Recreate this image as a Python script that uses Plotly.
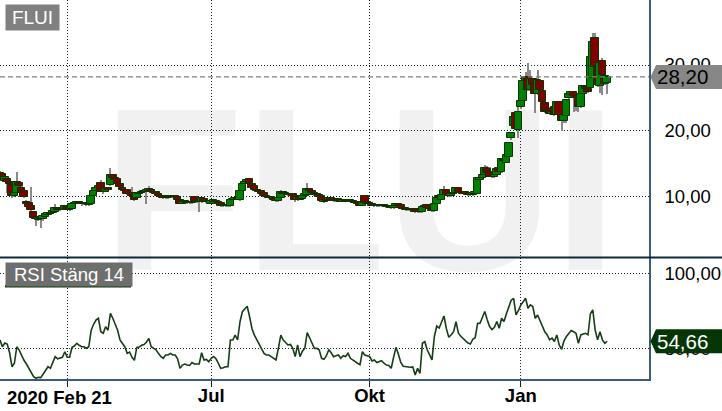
import plotly.graph_objects as go

# daily candles, Feb 21 2020 .. Feb 2021 (trading-day index on x)
opens = [
    13.1, 13.5, 12.4, 12.7, 12.3, 11.8, 10.2, 10.6, 12.1, 11.4,
    10.9, 9.3, 9.1, 8.6, 7.7, 7.0, 6.5, 6.9, 6.6, 7.0,
    7.3, 7.6, 7.5, 7.8, 8.3, 8.0, 8.3, 8.1, 8.5, 8.3,
    8.2, 8.9, 9.0, 9.2, 9.0, 8.9, 9.0, 8.8, 8.9, 10.2,
    10.9, 11.3, 12.1, 11.2, 10.8, 11.3, 11.8, 13.3, 12.9, 12.7,
    12.0, 11.3, 11.1, 11.0, 10.4, 10.6, 10.3, 9.8, 10.5, 10.6,
    10.9, 10.8, 10.9, 11.1, 10.7, 10.7, 10.5, 10.2, 10.2, 9.8,
    9.9, 10.0, 10.1, 10.0, 10.0, 9.6, 9.0, 9.2, 9.2, 9.2,
    9.1, 10.0, 9.3, 9.3, 9.2, 9.7, 9.2, 9.3, 9.0, 9.3,
    9.4, 9.3, 9.1, 8.7, 8.6, 8.7, 8.6, 9.5, 9.6, 9.8,
    9.5, 10.9, 12.0, 12.3, 12.7, 12.0, 11.6, 11.1, 10.9, 10.9,
    10.6, 10.2, 9.9, 10.0, 9.8, 9.7, 9.4, 9.8, 10.8, 10.6,
    10.5, 10.3, 10.4, 10.2, 9.5, 10.0, 9.7, 10.2, 10.3, 11.2,
    10.9, 10.6, 10.4, 10.3, 10.1, 9.2, 9.4, 9.6, 9.8, 9.6,
    9.4, 9.6, 9.5, 9.3, 9.5, 9.4, 9.5, 9.3, 9.2, 9.2,
    9.1, 8.7, 10.1, 9.2, 9.0, 8.9, 8.8, 8.7, 8.6, 8.6,
    8.7, 8.6, 8.6, 8.5, 8.3, 8.7, 8.9, 8.8, 8.4, 8.3,
    8.2, 8.1, 8.0, 8.2, 7.7, 7.9, 7.7, 8.5, 8.8, 8.4,
    8.2, 7.9, 8.9, 10.2, 9.6, 10.3, 11.0, 10.4, 10.1, 10.4,
    10.6, 11.3, 10.8, 10.7, 10.8, 10.5, 10.6, 10.3, 10.4, 10.5,
    12.6, 12.9, 13.4, 14.3, 13.8, 13.2, 13.0, 13.4, 14.4, 13.8,
    15.6, 15.2, 16.1, 18.9, 20.8, 22.7, 20.2, 23.6, 24.5, 27.6,
    28.2, 26.2, 27.9, 27.3, 25.6, 27.6, 26.1, 24.2, 23.4, 23.3,
    22.6, 23.6, 22.5, 24.4, 22.4, 21.5, 22.3, 25.0, 25.5, 25.9,
    25.3, 25.2, 23.6, 25.6, 26.6, 26.4, 26.5, 28.0, 34.1, 29.6,
    26.8, 30.6, 28.3, 27.3,
]
highs = [
    14.0, 13.7, 13.2, 12.9, 12.5, 12.0, 10.8, 13.8, 12.4, 11.6,
    11.0, 9.6, 9.3, 11.5, 7.9, 7.1, 7.0, 7.0, 7.2, 7.5,
    7.7, 7.7, 8.0, 8.9, 8.4, 8.3, 8.4, 8.7, 8.6, 8.4,
    9.0, 9.1, 9.3, 9.3, 9.1, 9.1, 9.1, 9.1, 10.3, 11.0,
    11.4, 11.8, 12.6, 11.4, 11.4, 11.5, 14.4, 13.5, 13.0, 12.8,
    12.1, 11.5, 11.2, 11.1, 10.6, 11.5, 10.4, 10.7, 10.8, 10.9,
    11.0, 11.1, 11.7, 11.2, 10.9, 10.8, 10.6, 10.3, 10.3, 10.1,
    10.1, 10.2, 10.2, 10.1, 10.1, 9.7, 9.3, 9.4, 9.3, 9.3,
    9.4, 10.1, 9.4, 9.4, 9.9, 9.8, 9.4, 9.4, 9.5, 9.6,
    9.5, 9.4, 9.2, 8.8, 8.8, 8.8, 9.7, 9.7, 9.9, 9.9,
    11.0, 12.1, 12.4, 12.8, 12.9, 12.1, 11.7, 11.3, 11.0, 11.0,
    10.7, 10.3, 10.1, 10.1, 9.9, 9.8, 10.5, 11.0, 10.9, 10.7,
    10.6, 10.5, 10.5, 10.3, 10.1, 10.1, 10.3, 10.5, 12.1, 11.3,
    11.0, 10.7, 10.5, 10.4, 10.2, 9.6, 9.7, 10.0, 9.9, 9.7,
    9.6, 9.7, 9.6, 9.6, 9.6, 9.6, 9.6, 9.4, 9.3, 9.3,
    9.2, 9.4, 10.3, 9.3, 9.1, 9.0, 8.9, 8.8, 8.8, 8.9,
    8.8, 8.7, 8.7, 8.6, 8.8, 9.0, 9.0, 8.9, 8.5, 8.4,
    8.4, 8.2, 8.2, 8.3, 8.0, 8.0, 8.7, 8.8, 8.9, 8.5,
    8.3, 9.0, 10.0, 10.3, 10.4, 11.6, 11.1, 10.5, 10.5, 10.7,
    11.5, 11.4, 10.9, 10.8, 10.9, 10.6, 10.7, 10.7, 10.8, 13.0,
    13.1, 13.5, 14.8, 14.7, 14.6, 13.4, 13.5, 14.4, 14.5, 15.9,
    15.8, 16.5, 18.3, 19.8, 22.3, 22.9, 24.4, 24.6, 27.8, 29.0,
    30.3, 29.2, 28.1, 27.5, 29.2, 27.8, 26.3, 24.4, 23.8, 23.6,
    23.1, 23.8, 24.6, 24.5, 22.6, 22.6, 24.9, 25.8, 26.0, 26.1,
    25.5, 25.4, 25.8, 26.9, 26.8, 26.6, 31.4, 34.9, 34.8, 31.5,
    30.5, 31.0, 28.6, 28.4,
]
lows = [
    12.9, 12.8, 12.2, 10.6, 11.9, 9.9, 10.0, 10.5, 11.4, 10.7,
    9.9, 8.9, 8.4, 7.9, 6.6, 5.6, 6.3, 5.3, 6.4, 6.9,
    7.2, 7.3, 7.4, 7.7, 7.9, 7.9, 8.0, 8.0, 8.0, 7.9,
    8.1, 8.8, 8.9, 8.9, 8.7, 8.8, 8.7, 8.7, 8.8, 10.0,
    10.5, 11.0, 10.7, 10.5, 10.7, 10.9, 11.7, 12.8, 12.3, 11.9,
    11.4, 11.0, 10.8, 10.3, 10.2, 10.1, 9.4, 9.7, 10.4, 10.5,
    10.7, 8.9, 10.8, 10.6, 10.5, 10.4, 10.0, 9.9, 9.7, 9.7,
    9.8, 9.9, 9.9, 9.8, 9.4, 8.9, 8.9, 9.1, 9.0, 9.0,
    9.0, 9.1, 9.1, 7.7, 9.1, 9.2, 9.1, 9.1, 8.9, 9.2,
    9.2, 8.9, 8.5, 8.5, 8.5, 8.5, 8.5, 9.4, 9.5, 9.5,
    9.4, 10.8, 11.9, 12.2, 12.0, 11.3, 11.0, 10.8, 10.6, 10.3,
    10.0, 9.9, 9.8, 9.7, 9.5, 9.3, 9.3, 9.7, 10.3, 10.3,
    10.2, 10.2, 10.1, 9.3, 9.4, 9.5, 9.6, 10.1, 10.2, 10.8,
    10.5, 10.2, 10.2, 9.9, 9.2, 9.1, 9.3, 9.5, 9.4, 9.3,
    9.3, 9.4, 9.2, 9.2, 9.3, 9.3, 9.2, 9.1, 9.0, 8.8,
    8.6, 8.6, 9.0, 8.9, 8.8, 8.6, 8.6, 8.5, 8.5, 8.5,
    8.5, 8.4, 8.4, 8.2, 8.2, 8.6, 8.6, 8.2, 8.1, 7.9,
    7.9, 7.9, 7.9, 7.6, 7.6, 7.6, 7.6, 8.4, 8.2, 8.1,
    7.8, 7.8, 8.8, 9.6, 9.5, 10.2, 10.2, 10.0, 10.0, 10.3,
    10.5, 10.7, 10.5, 10.4, 10.4, 10.2, 10.2, 10.2, 10.3, 10.4,
    12.5, 12.8, 13.3, 13.5, 13.0, 12.9, 12.9, 13.3, 13.7, 13.7,
    15.2, 15.1, 16.0, 18.7, 20.6, 20.1, 18.9, 23.4, 24.3, 27.3,
    26.0, 26.1, 26.9, 22.7, 25.5, 25.0, 24.2, 22.8, 22.7, 22.4,
    22.4, 22.3, 22.4, 22.2, 20.0, 21.2, 21.2, 24.9, 25.3, 22.9,
    23.0, 22.9, 23.5, 25.4, 26.1, 25.7, 26.3, 27.8, 29.5, 26.7,
    25.8, 25.5, 27.0, 25.6,
]
closes = [
    13.7, 12.9, 13.0, 12.2, 12.0, 10.1, 10.6, 12.2, 11.6, 10.8,
    10.0, 9.0, 8.5, 8.0, 6.8, 6.6, 6.8, 6.7, 7.1, 7.4,
    7.6, 7.4, 7.9, 8.3, 8.0, 8.2, 8.1, 8.6, 8.1, 8.0,
    8.9, 9.0, 9.2, 9.0, 8.9, 9.0, 8.9, 9.0, 10.2, 10.9,
    11.3, 11.6, 10.8, 10.7, 11.3, 11.0, 13.3, 12.9, 12.5, 12.0,
    11.5, 11.1, 10.9, 10.4, 10.5, 10.2, 9.6, 10.6, 10.6, 10.8,
    10.8, 11.0, 11.2, 10.7, 10.6, 10.5, 10.1, 10.0, 9.8, 10.0,
    10.0, 10.1, 10.0, 10.0, 9.5, 9.0, 9.2, 9.3, 9.1, 9.1,
    9.3, 9.2, 9.2, 9.2, 9.8, 9.3, 9.3, 9.2, 9.4, 9.5,
    9.3, 9.0, 8.6, 8.6, 8.7, 8.6, 9.6, 9.6, 9.8, 9.6,
    10.9, 12.0, 12.3, 12.6, 12.1, 11.4, 11.1, 10.9, 10.7, 10.4,
    10.1, 10.0, 10.0, 9.8, 9.6, 9.4, 9.8, 10.8, 10.4, 10.4,
    10.3, 10.4, 10.2, 9.5, 10.0, 9.6, 10.2, 10.4, 11.2, 10.9,
    10.6, 10.3, 10.3, 10.0, 9.4, 9.5, 9.6, 9.9, 9.5, 9.4,
    9.5, 9.5, 9.3, 9.5, 9.4, 9.5, 9.3, 9.2, 9.1, 8.9,
    8.7, 9.3, 9.1, 9.0, 8.9, 8.7, 8.7, 8.6, 8.7, 8.7,
    8.6, 8.5, 8.5, 8.3, 8.7, 8.9, 8.7, 8.3, 8.2, 8.1,
    8.0, 8.0, 8.1, 7.8, 7.9, 7.7, 8.5, 8.6, 8.3, 8.2,
    7.9, 8.9, 9.9, 9.8, 10.3, 11.0, 10.3, 10.1, 10.4, 10.6,
    11.4, 10.8, 10.6, 10.5, 10.5, 10.3, 10.3, 10.6, 10.7, 12.9,
    12.9, 13.4, 14.4, 13.6, 13.1, 13.0, 13.4, 14.3, 13.8, 15.8,
    15.4, 16.4, 18.2, 19.7, 22.1, 20.3, 22.9, 24.5, 27.6, 28.2,
    26.2, 27.9, 27.0, 25.6, 27.7, 26.2, 24.4, 22.9, 23.0, 22.6,
    22.9, 22.5, 24.4, 22.4, 21.5, 22.4, 24.7, 25.6, 25.9, 25.3,
    25.0, 23.6, 25.6, 26.8, 26.3, 25.9, 31.2, 33.5, 29.7, 27.0,
    30.3, 28.5, 27.1, 28.2,
]
rsi = [
    55.5, 51.0, 53.5, 52.8, 47.0, 37.7, 40.0, 51.0, 48.8, 45.0,
    42.0, 39.5, 36.6, 34.0, 31.0, 30.0, 30.6, 30.4, 33.0, 35.5,
    37.7, 36.6, 40.0, 44.4, 43.0, 43.5, 44.0, 47.7, 44.0, 44.0,
    50.6, 51.5, 53.3, 52.0, 51.0, 51.0, 50.0, 51.0, 62.0, 66.0,
    68.8, 70.0, 61.0, 60.0, 64.4, 62.0, 73.3, 70.0, 66.0, 62.0,
    55.5, 53.3, 51.0, 46.6, 47.5, 44.0, 42.0, 50.6, 50.8, 52.0,
    52.5, 54.0, 56.6, 51.0, 50.0, 49.0, 46.6, 44.5, 43.3, 45.5,
    45.5, 46.6, 45.5, 45.5, 43.0, 36.6, 38.8, 39.5, 38.8, 38.5,
    40.5, 39.5, 39.5, 39.5, 47.0, 42.2, 42.6, 41.0, 43.3, 44.5,
    43.0, 40.0, 36.6, 37.0, 37.7, 37.7, 55.5, 55.5, 58.8, 55.5,
    67.7, 74.4, 76.6, 78.0, 71.0, 63.0, 58.8, 55.5, 53.3, 50.0,
    46.6, 45.5, 45.5, 44.4, 43.3, 42.2, 50.0, 58.8, 55.5, 54.0,
    52.2, 52.5, 50.0, 44.4, 52.2, 44.4, 48.0, 50.0, 60.4, 57.0,
    53.0, 49.9, 49.9, 48.8, 43.3, 42.6, 45.0, 49.0, 47.0, 44.4,
    45.0, 45.5, 43.3, 45.0, 44.5, 46.6, 43.3, 42.0, 41.0, 40.0,
    39.0, 47.7, 45.5, 45.0, 44.5, 41.5, 42.2, 40.5, 41.0, 41.7,
    40.0, 38.8, 38.5, 36.6, 44.0, 50.6, 46.0, 40.5, 38.0, 37.7,
    37.3, 37.3, 37.5, 32.2, 36.6, 33.3, 53.3, 54.4, 49.0, 46.0,
    42.2, 58.0, 64.8, 63.5, 67.0, 71.5, 63.0, 57.3, 59.0, 61.0,
    67.7, 60.0, 58.0, 56.6, 55.5, 53.5, 52.8, 56.0, 57.0, 66.6,
    66.7, 70.5, 74.5, 69.0, 64.5, 62.5, 64.0, 67.8, 63.3, 70.0,
    67.8, 73.0, 78.0, 82.0, 83.3, 72.2, 75.0, 78.9, 81.0, 83.3,
    76.7, 78.9, 77.8, 70.0, 72.2, 68.0, 64.5, 61.0, 58.9, 55.6,
    56.7, 54.5, 58.9, 52.2, 49.3, 55.0, 57.8, 60.0, 61.8, 61.0,
    60.0, 53.3, 58.9, 59.5, 60.0, 59.0, 73.0, 75.6, 62.0, 55.6,
    61.0, 55.6, 53.3, 54.66,
]

tick_idx = [28, 88, 154, 217]
tick_text = ['', 'Jul', 'Okt', 'Jan']
start_label = '2020 Feb 21'
ticker = 'FLUI'
rsi_label = 'RSI Stäng 14'

idx = list(range(len(closes)))

W, H = 722, 411
ML, MR, MT, MB = 0, 73, 0, 32
PW, PH = W - ML - MR, H - MT - MB
split = 1 - 257.5 / PH          # paper y of the panel separator
price_rng = [0.83, 39.85]
rsi_rng = [29.5, 110.5]

def px_x(p):
    return p / PW

def px_y(p):
    return 1 - p / PH

body_base = [min(o, c) for o, c in zip(opens, closes)]
body_len = [max(abs(c - o), 0.12) for o, c in zip(opens, closes)]
body_col = ['#008000' if c >= o else '#800000' for o, c in zip(opens, closes)]
wick_len = [h - l for h, l in zip(highs, lows)]

fig = go.Figure()

# wicks first so the bodies sit on top
fig.add_trace(go.Bar(
    x=idx, y=wick_len, base=lows, width=0.42,
    marker=dict(color='#8a8a8a', line=dict(width=0)),
    hoverinfo='skip', showlegend=False,
))
fig.add_trace(go.Bar(
    x=idx, y=body_len, base=body_base, width=3.1,
    marker=dict(color=body_col, line=dict(color='#0d3300', width=1)),
    hoverinfo='skip', showlegend=False,
))
fig.add_trace(go.Scatter(
    x=idx, y=rsi, yaxis='y2', mode='lines',
    line=dict(color='#163d16', width=1.6),
    hoverinfo='skip', showlegend=False,
))

grid = dict(showgrid=True, griddash='1px,2px', gridcolor='#10202c', gridwidth=1, zeroline=False)
tickfont = dict(family='Liberation Sans, Arial', size=18.5, color='black')

fig.update_layout(
    width=W, height=H,
    margin=dict(l=ML, r=MR, t=MT, b=MB),
    paper_bgcolor='white', plot_bgcolor='rgba(0,0,0,0)',
    barmode='overlay', bargap=0,
    separators=', ',
    showlegend=False,
    xaxis=dict(
        range=[0, PW / 2.4], anchor='y2',
        tickmode='array', tickvals=tick_idx, ticktext=tick_text,
        tickfont=dict(family='Liberation Sans, Arial', size=18.5, color='black', weight='bold'),
        ticks='outside', ticklen=6, tickcolor='#10202c', ticklabelstandoff=-7,
        showline=True, linecolor='#3b5a7e', linewidth=1.5,
        **grid,
    ),
    yaxis=dict(
        domain=[split, 1], range=price_rng, side='right', anchor='x',
        tickmode='array', tickvals=[10, 20, 30], tickformat='.2f',
        tickfont=tickfont, ticks='', ticklabelstandoff=10,
        showline=True, linecolor='#3b5a7e', linewidth=1.5,
        **grid,
    ),
    yaxis2=dict(
        domain=[0, split], range=rsi_rng, side='right', anchor='x',
        tickmode='array', tickvals=[50, 100], tickformat='.2f',
        tickfont=tickfont, ticks='', ticklabelstandoff=10,
        showline=True, linecolor='#3b5a7e', linewidth=1.5,
        **grid,
    ),
)

shapes = []
# big watermark behind everything
shapes.append(dict(
    type='rect', xref='paper', yref='paper', layer='below',
    x0=px_x(100), x1=px_x(620), y0=px_y(262), y1=px_y(72),
    line=dict(width=0), fillcolor='rgba(0,0,0,0)',
    label=dict(text=ticker, textposition='middle center',
               font=dict(family='Liberation Sans, Arial', size=232, color='#f1f1f1', weight='bold')),
))
# last price dashed line
shapes.append(dict(
    type='line', xref='paper', yref='y', x0=0, x1=1, y0=closes[-1], y1=closes[-1],
    line=dict(color='#808080', width=1.2, dash='5px,3px'),
))
# panel separator
shapes.append(dict(
    type='line', xref='paper', yref='paper', x0=0, x1=W / PW, y0=split, y1=split,
    line=dict(color='#0c2a3a', width=2),
))
# underline of the RSI label
shapes.append(dict(
    type='rect', xref='paper', yref='paper', x0=px_x(5), x1=px_x(131),
    y0=px_y(287.5), y1=px_y(285), line=dict(width=0), fillcolor='#0a3a0a',
))


def tag_path(yc, col):
    # left pointing price tag on the right axis
    h = 12 / PH
    x_tip, x_b, x_r = PW + 1.5, PW + 7, W + 2
    return dict(
        type='path', xref='paper', yref='paper', fillcolor=col, line=dict(width=0),
        path='M {:.5f},{:.5f} L {:.5f},{:.5f} L {:.5f},{:.5f} L {:.5f},{:.5f} L {:.5f},{:.5f} Z'.format(
            px_x(x_tip), yc, px_x(x_b), yc + h, px_x(x_r), yc + h, px_x(x_r), yc - h, px_x(x_b), yc - h),
    )


price_y = split + (closes[-1] - price_rng[0]) / (price_rng[1] - price_rng[0]) * (1 - split)
rsi_y = (rsi[-1] - rsi_rng[0]) / (rsi_rng[1] - rsi_rng[0]) * split
shapes.append(tag_path(price_y, '#878787'))
shapes.append(tag_path(rsi_y, '#063606'))
fig.update_layout(shapes=shapes)

fmt = lambda v: '{:.2f}'.format(v).replace('.', ',')
annotations = [
    dict(text=ticker, xref='paper', yref='paper', x=px_x(5), y=px_y(4),
         xanchor='left', yanchor='top', showarrow=False, bgcolor='#808080',
         width=53, height=25, borderpad=0,
         font=dict(family='Liberation Sans, Arial', size=19, color='white')),
    dict(text=rsi_label, xref='paper', yref='paper', x=px_x(5), y=px_y(262),
         xanchor='left', yanchor='top', showarrow=False, bgcolor='#6e6e6e',
         width=126, height=23, borderpad=0,
         font=dict(family='Liberation Sans, Arial', size=18.5, color='white')),
    dict(text=start_label, xref='paper', yref='paper', x=px_x(5), y=px_y(397.5),
         xanchor='left', yanchor='middle', showarrow=False,
         font=dict(family='Liberation Sans, Arial', size=18.5, color='black', weight='bold')),
    dict(text=fmt(closes[-1]), xref='paper', yref='paper', x=px_x(PW + 6), y=price_y,
         xanchor='left', yanchor='middle', showarrow=False,
         font=dict(family='Liberation Sans, Arial', size=20.5, color='black')),
    dict(text=fmt(rsi[-1]), xref='paper', yref='paper', x=px_x(PW + 6), y=rsi_y,
         xanchor='left', yanchor='middle', showarrow=False,
         font=dict(family='Liberation Sans, Arial', size=20.5, color='white')),
]
fig.update_layout(annotations=annotations)

# the page itself must not add the browser's default body margin
fig.write_html('out.html', config={'displayModeBar': False},
               post_script="document.body.style.margin='0';document.body.style.overflow='hidden';")
